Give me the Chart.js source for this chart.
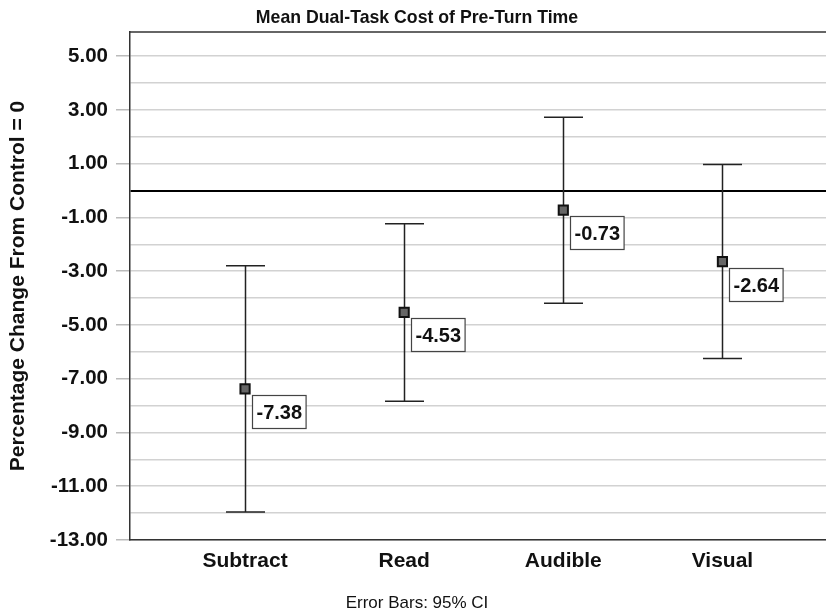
<!DOCTYPE html>
<html>
<head>
<meta charset="utf-8">
<script src="https://cdn.jsdelivr.net/npm/chart.js@4.4.1/dist/chart.umd.min.js"></script>
<style>
  html, body { margin: 0; padding: 0; background: #fff; overflow: hidden; }
  #wrap { width: 835px; height: 613px; }
</style>
</head>
<body>
<div id="wrap"><canvas id="chart"></canvas></div>
<script>
var categories = ["Subtract", "Read", "Audible", "Visual"];
var means = [-7.38, -4.53, -0.73, -2.64];
var ciLower = [-11.96, -7.84, -4.19, -6.25];
var ciUpper = [-2.80, -1.23, 2.73, 0.97];
var yLabelled = [5, 3, 1, -1, -3, -5, -7, -9, -11, -13];

var titleText = "Mean Dual-Task Cost of Pre-Turn Time";
var footText = "Error Bars: 95% CI";
var yTitle = "Percentage Change From Control = 0";

var points = means.map(function(m, i) { return {x: i + 1, y: m}; });

// error bars under the markers, value boxes + top frame on top
var errorBars = {
    id: 'errorBars',
    beforeDatasetsDraw: function(chart) {
        var c = chart.ctx, xs = chart.scales.x, ys = chart.scales.y;
        c.save();
        c.strokeStyle = '#222';
        c.lineWidth = 1.5;
        for (var i = 0; i < means.length; i++) {
            var px = Math.round(xs.getPixelForValue(i + 1)) + 0.5;
            var top = ys.getPixelForValue(ciUpper[i]);
            var bot = ys.getPixelForValue(ciLower[i]);
            c.beginPath();
            c.moveTo(px, top); c.lineTo(px, bot);
            c.moveTo(px - 19.5, top); c.lineTo(px + 19.5, top);
            c.moveTo(px - 19.5, bot); c.lineTo(px + 19.5, bot);
            c.stroke();
        }
        c.restore();
    },
    afterDatasetsDraw: function(chart) {
        var c = chart.ctx, xs = chart.scales.x, ys = chart.scales.y, a = chart.chartArea;
        c.save();
        // top frame line
        c.strokeStyle = '#333';
        c.lineWidth = 1.5;
        c.beginPath();
        c.moveTo(a.left, a.top); c.lineTo(a.right, a.top);
        c.stroke();
        // value boxes
        c.font = 'bold 20px "Liberation Sans", Arial, sans-serif';
        c.textAlign = 'center';
        c.textBaseline = 'middle';
        for (var i = 0; i < means.length; i++) {
            var px = xs.getPixelForValue(i + 1);
            var py = ys.getPixelForValue(means[i]);
            var txt = means[i].toFixed(2);
            var w = c.measureText(txt).width + 8;
            var h = 33;
            var bx = Math.round(px + 7) + 0.5, by = Math.round(py + 6) + 0.5;
            c.fillStyle = '#fff';
            c.fillRect(bx, by, w, h);
            c.strokeStyle = '#444';
            c.lineWidth = 1.2;
            c.strokeRect(bx, by, w, h);
            c.fillStyle = '#111';
            c.fillText(txt, bx + w / 2, by + h / 2 + 1);
        }
        c.restore();
    },
    afterDraw: function(chart) {
        var c = chart.ctx;
        c.save();
        c.fillStyle = '#111';
        c.textAlign = 'center';
        c.textBaseline = 'middle';
        c.font = 'bold 17.7px "Liberation Sans", Arial, sans-serif';
        c.fillText(titleText, 417, 18);
        c.font = '17px "Liberation Sans", Arial, sans-serif';
        c.fillText(footText, 417, 603);
        c.restore();
    }
};

new Chart(document.getElementById('chart'), {
    type: 'scatter',
    data: {
        datasets: [{
            data: points,
            pointStyle: 'rect',
            pointRadius: 6.5,
            pointBackgroundColor: '#666',
            pointBorderColor: '#111',
            pointBorderWidth: 2,
            showLine: false
        }]
    },
    plugins: [errorBars],
    options: {
        responsive: true,
        maintainAspectRatio: false,
        animation: false,
        layout: { padding: { top: 32, left: 0, right: 0, bottom: 0 } },
        plugins: {
            legend: { display: false },
            tooltip: { enabled: false }
        },
        scales: {
            x: {
                type: 'linear',
                min: 0.277,
                max: 4.654,
                afterBuildTicks: function(scale) {
                    scale.ticks = categories.map(function(c, i) { return {value: i + 1}; });
                },
                afterFit: function(scale) { scale.height = 73; },
                grid: { display: false, drawTicks: false },
                border: { display: true, color: '#333', width: 1.5 },
                ticks: {
                    padding: 9,
                    color: '#111',
                    font: { family: '"Liberation Sans", Arial, sans-serif', size: 21, weight: 'bold' },
                    callback: function(v) { return categories[v - 1] || ''; }
                }
            },
            y: {
                min: -13,
                max: 5.9,
                afterBuildTicks: function(scale) {
                    var t = [];
                    for (var v = -13; v <= 5; v++) t.push({value: v});
                    scale.ticks = t;
                },
                afterFit: function(scale) { scale.width = 130; },
                grid: {
                    color: function(ctx) { return ctx.tick && ctx.tick.value === 0 ? '#000' : '#d2d2d2'; },
                    lineWidth: function(ctx) { return ctx.tick && ctx.tick.value === 0 ? 2 : 1.5; },
                    tickColor: function(ctx) {
                        return ctx.tick && yLabelled.indexOf(ctx.tick.value) >= 0 ? '#bbb' : 'rgba(0,0,0,0)';
                    },
                    tickLength: 14
                },
                border: { display: true, color: '#333', width: 1.5 },
                ticks: {
                    padding: 8,
                    color: '#111',
                    autoSkip: false,
                    font: { family: '"Liberation Sans", Arial, sans-serif', size: 20.5, weight: 'bold' },
                    callback: function(v) { return yLabelled.indexOf(v) >= 0 ? v.toFixed(2) : ''; }
                },
                title: {
                    display: true,
                    text: yTitle,
                    color: '#111',
                    padding: { top: 6, bottom: 0 },
                    font: { family: '"Liberation Sans", Arial, sans-serif', size: 21, weight: 'bold' }
                }
            }
        }
    }
});
</script>
</body>
</html>
